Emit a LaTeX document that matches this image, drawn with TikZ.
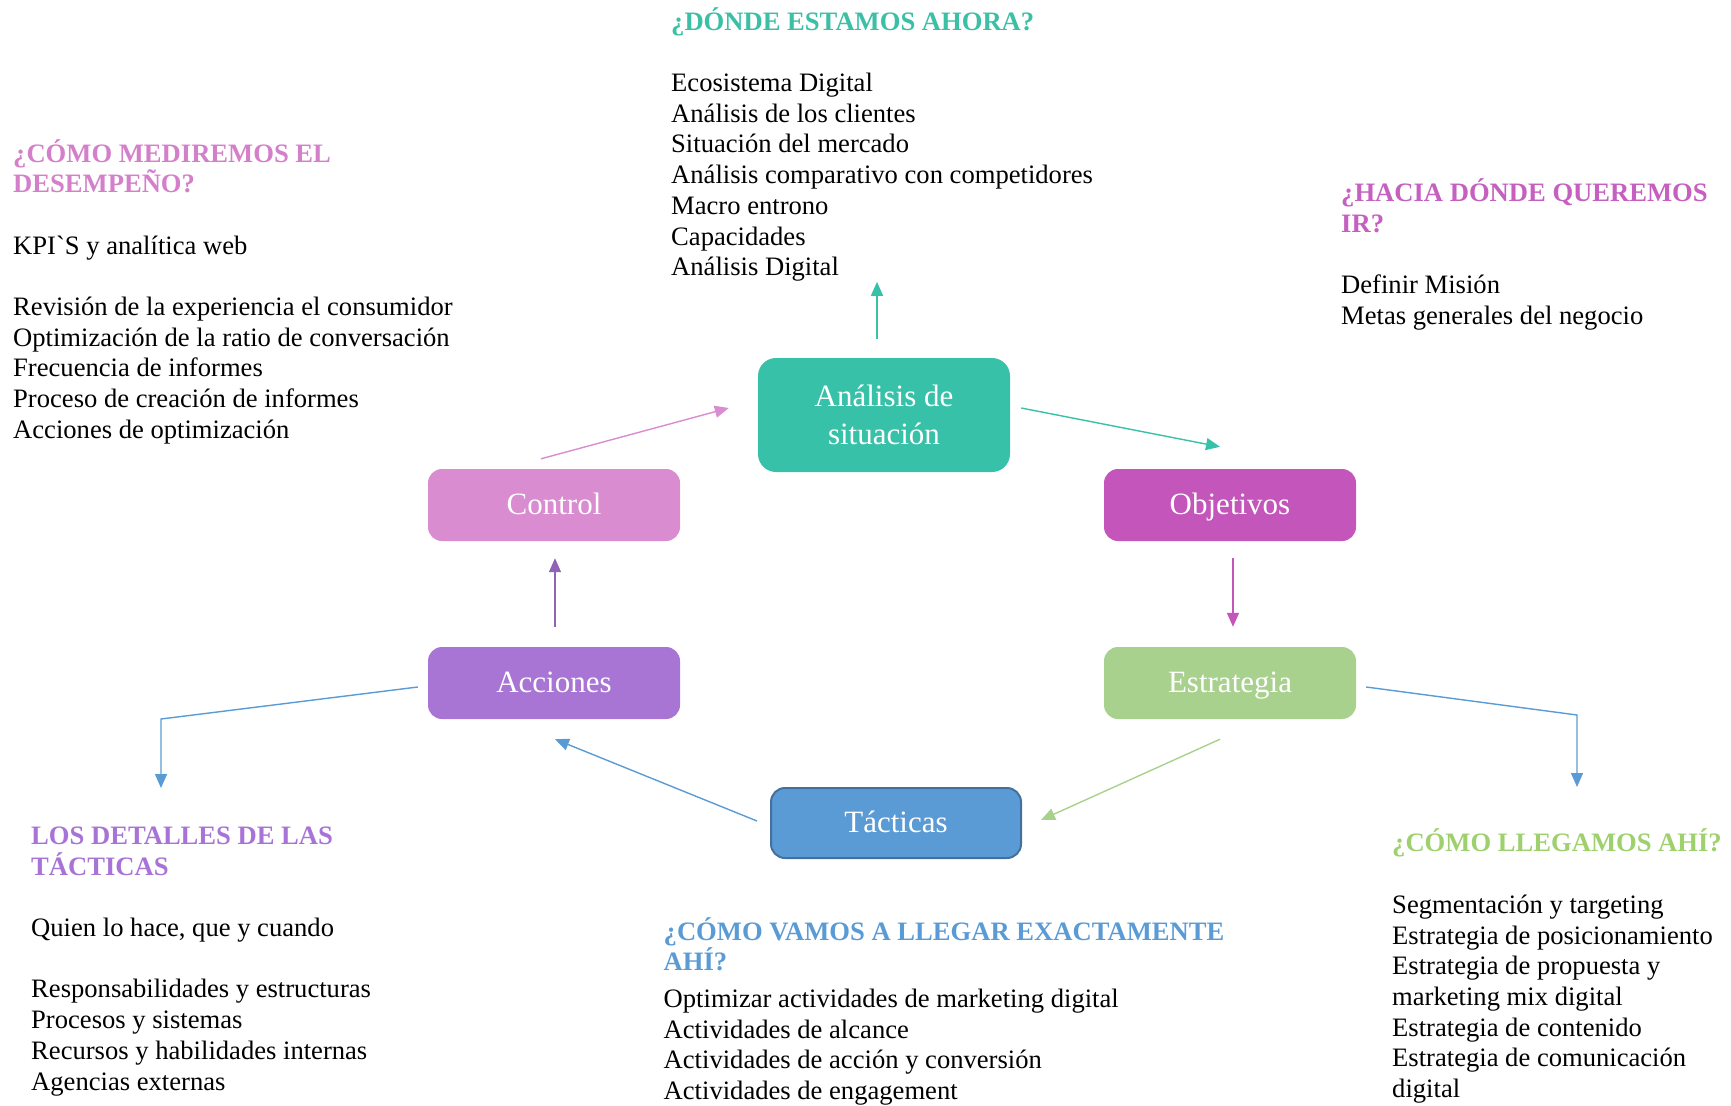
\documentclass[tikz,border=0pt]{standalone}
\usepackage{fontspec}
\setmainfont{Liberation Serif}
\newfontfamily\noligfont{Liberation Serif}[Ligatures=TeXOff]
\usetikzlibrary{arrows.meta,calc}
\definecolor{cTeal}{HTML}{38C1A9}
\definecolor{cPink}{HTML}{D98CCF}
\definecolor{cMag}{HTML}{C455BA}
\definecolor{cPurp}{HTML}{A975D5}
\definecolor{cGreen}{HTML}{A9D18E}
\definecolor{cBlue}{HTML}{5B9BD5}
\definecolor{cBlueD}{HTML}{41719C}
\definecolor{hTeal}{HTML}{3BBFA5}
\definecolor{hPink}{HTML}{D47FC9}
\definecolor{hMag}{HTML}{C55FC0}
\definecolor{hPurp}{HTML}{A873D6}
\definecolor{hGreen}{HTML}{9ED06E}
\definecolor{hBlue}{HTML}{5B9BD5}
\begin{document}
\begin{tikzpicture}[x=1pt,y=-1pt,
  box/.style={rounded corners=14pt, minimum width=252pt, minimum height=72pt,
    text=white, font=\fontsize{31}{38}\selectfont, align=center, inner sep=0pt},
  sbox/.style={box, text height=23.5pt, text depth=4.5pt},
  txt/.style={anchor=base west, align=left, inner sep=0pt,
    font=\fontsize{26.6}{30.7}\selectfont},
  conn/.style={line width=1.4pt, -{Triangle[length=14pt,width=12pt]}}
]
\useasboundingbox (0,0) rectangle (1731,1105);

% boxes
\node[box, fill=cTeal, minimum height=114pt, rounded corners=18pt] (ana) at (884,415) {Análisis de\\situación};
\node[sbox, fill=cPink] (con) at (554,505) {Control};
\node[sbox, fill=cMag] (obj) at (1230,505) {Objetivos};
\node[sbox, fill=cPurp] (acc) at (554,683) {Acciones};
\node[sbox, fill=cGreen] (est) at (1230,683) {Estrategia};
\node[sbox, fill=cBlue, draw=cBlueD, line width=2pt, minimum width=250pt, minimum height=70pt] (tac) at (896,823) {Tácticas};

% text blocks (anchor base west = baseline of last line)
\node[txt] (tTop) at (671,275.7) {{\color{hTeal}\bfseries ¿DÓNDE ESTAMOS AHORA?}\\[30.7pt]
Ecosistema Digital\\Análisis de los clientes\\Situación del mercado\\Análisis comparativo con competidores\\Macro entrono\\Capacidades\\Análisis Digital};

\node[txt] (tLeft) at (13,438.3) {{\color{hPink}\bfseries ¿CÓMO MEDIREMOS EL}\\{\color{hPink}\bfseries DESEMPEÑO?}\\[30.7pt]
KPI{\noligfont `}S y analítica web\\[30.7pt]
Revisión de la experiencia el consumidor\\Optimización de la ratio de conversación\\Frecuencia de informes\\Proceso de creación de informes\\Acciones de optimización};

\node[txt] (tRight) at (1341,324.3) {{\color{hMag}\bfseries ¿HACIA DÓNDE QUEREMOS}\\{\color{hMag}\bfseries IR?}\\[30.7pt]
Definir Misión\\Metas generales del negocio};

\node[txt] (tBL) at (31,1090) {{\color{hPurp}\bfseries LOS DETALLES DE LAS}\\{\color{hPurp}\bfseries TÁCTICAS}\\[30.7pt]
Quien lo hace, que y cuando\\[30.7pt]
Responsabilidades y estructuras\\Procesos y sistemas\\Recursos y habilidades internas\\Agencias externas};

\node[txt] (tBC) at (663.5,1099.5) {{\color{hBlue}\bfseries ¿CÓMO VAMOS A LLEGAR EXACTAMENTE}\\{\color{hBlue}\bfseries AHÍ?}\\[6pt]
Optimizar actividades de marketing digital\\Actividades de alcance\\Actividades de acción y conversión\\Actividades de engagement};

\node[txt] (tBR) at (1392,1097.5) {{\color{hGreen}\bfseries ¿CÓMO LLEGAMOS AHÍ?}\\[30.7pt]
Segmentación y targeting\\Estrategia de posicionamiento\\Estrategia de propuesta y\\marketing mix digital\\Estrategia de contenido\\Estrategia de comunicación\\digital};

% free ends
\coordinate (anaOut) at ($(ana.north)+(-7,-76)$);
\coordinate (accBend) at (161,719);
\coordinate (accOut) at (161,788);
\coordinate (estBend) at (1577,715);
\coordinate (estOut) at (1577,787);

% connectors
\draw[conn, cTeal] ($(ana.north)+(-7,-19)$) -- (anaOut);
\draw[conn, cTeal] ($(ana.east)+(11,-7)$) -- ($(obj.north)+(-10,-22)$);
\draw[conn, cMag] ($(obj.south)+(3,17)$) -- ($(est.north)+(3,-20)$);
\draw[conn, cGreen] ($(est.south)+(-10,20)$) -- ($(tac.east)+(19,-3)$);
\draw[conn, cBlue] ($(tac.west)+(-13,-2)$) -- ($(acc.south)+(1,20)$);
\draw[conn, cPurp!85!black] ($(acc.north)+(1,-20)$) -- ($(con.south)+(1,17)$);
\draw[conn, cPink] ($(con.north)+(-13,-10)$) -- ($(ana.west)+(-29,-7)$);
\draw[conn, cBlue] ($(acc.west)+(-10,4)$) -- (accBend) -- (accOut);
\draw[conn, cBlue] ($(est.east)+(10,4)$) -- (estBend) -- (estOut);
\end{tikzpicture}
\end{document}
